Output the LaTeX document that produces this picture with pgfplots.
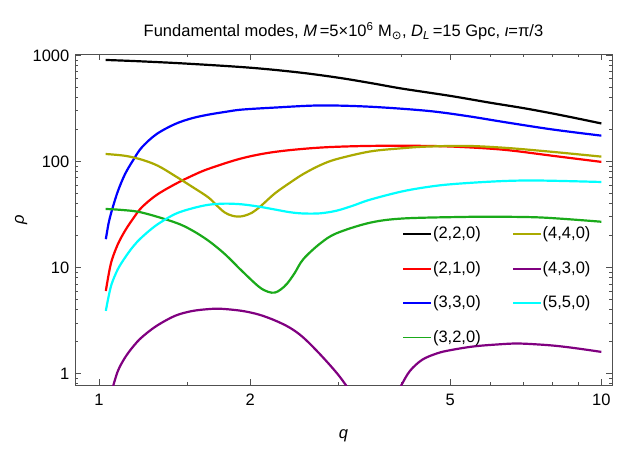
\documentclass[border=0pt]{standalone}
\usepackage{fontspec}
\setmainfont{Liberation Sans}
\newfontfamily\dejavu{DejaVu Sans}
\usepackage{pgfplots}
\pgfplotsset{compat=1.18}

\definecolor{mgreen}{RGB}{26,170,26}
\definecolor{molive}{RGB}{170,170,0}
\definecolor{mpurple}{RGB}{128,0,128}
\definecolor{mcyan}{RGB}{0,255,255}
\definecolor{mframe}{RGB}{80,80,80}

\begin{document}
\fontsize{16.5bp}{19bp}\selectfont
\begin{tikzpicture}
\begin{axis}[
  name=ax,
  at={(0,0)}, anchor=south west,
  scale only axis,
  width=537bp, height=331bp,
  xmode=log, ymode=log,
  xmin=0.896, xmax=10.5,
  ymin=0.78, ymax=1030,
  xtick={1,2,5,10}, xticklabels={1,2,5,10},
  minor xtick={1.5,3,4,6,7,8,9},
  ytick={1,10,100,1000}, yticklabels={1,10,100,1000},
  minor ytick={0.8,0.9,2,3,4,5,6,7,8,9,20,30,40,50,60,70,80,90,200,300,400,500,600,700,800,900},
  tick align=inside,
  major tick length=6bp, minor tick length=3.5bp,
  axis line style={mframe, line width=0.8bp},
  every tick/.style={mframe, line width=0.8bp},
  /pgf/number format/assume math mode=true,
  ticklabel style={font=\fontsize{16.5bp}{19bp}\selectfont},
  xticklabel style={yshift=-3bp},
  xlabel={\textit{q}}, ylabel={\textit{ρ}},
  label style={font=\fontsize{16.5bp}{19bp}\selectfont},
  xlabel style={yshift=-13bp},
  ylabel style={yshift=-6bp},
  title={Fundamental modes, \textit{M}\,=5×10\textsuperscript{6} M\textsubscript{\dejavu ⊙}, \textit{D}\textsubscript{\textit{L}}\,=15 Gpc, \textit{ι}=π/3},
  title style={font=\fontsize{16.5bp}{19bp}\selectfont, yshift=2bp},
  legend columns=4, transpose legend,
  legend style={at={(0.605,0.49)}, anchor=north west, draw=none, fill=none,
    font=\fontsize{16.5bp}{19bp}\selectfont, row sep=16bp,
    /tikz/every even column/.append style={column sep=30bp}},
  legend image code/.code={\fill[#1, draw=none] (0bp,-0.9bp) rectangle (28bp,0.9bp);},
  every axis plot/.append style={line width=2.2bp},
]
\addplot[black, smooth, tension=0.55] coordinates {(1.031,905) (1.2,880) (1.5,835) (2,765) (2.5,690) (3,615) (3.5,545) (4,487) (5,415) (6,358) (7,318) (8,283) (9,253) (10,228)};
\addlegendentry{(2,2,0)}
\addplot[red, smooth, tension=0.55] coordinates {(1.032,6.0) (1.045,8.5) (1.06,11.6) (1.09,16.5) (1.127,22.2) (1.17,29) (1.216,36.8) (1.3,48) (1.417,61) (1.53,73) (1.651,85) (1.925,107) (2.24,123) (2.755,135) (3.46,140) (4.5,140) (5.4,136) (6.48,128) (8,113) (10,99)};
\addlegendentry{(2,1,0)}
\addplot[blue, smooth, tension=0.55] coordinates {(1.032,18.5) (1.045,26) (1.06,34) (1.09,52) (1.127,76) (1.17,103) (1.216,135) (1.3,180) (1.417,225) (1.53,255) (1.651,276) (1.8,295) (1.925,308) (2.24,322) (2.755,337) (3.46,328) (4.5,300) (5.4,268) (6.48,233) (8,200) (10,175)};
\addlegendentry{(3,3,0)}
\addplot[mgreen, smooth, tension=0.55] coordinates {(1.031,35.6) (1.1,35) (1.216,33) (1.417,26.6) (1.53,22.5) (1.651,17.9) (1.78,13.4) (1.925,9.3) (2.08,6.6) (2.17,5.9) (2.24,5.8) (2.3,6.2) (2.366,7.0) (2.45,8.8) (2.552,12) (2.755,16.8) (2.97,21) (3.46,26.4) (4.04,29) (5.4,30) (6,30.1) (7.6,29.6) (10,27)};
\addlegendentry{(3,2,0)}
\addplot[molive, smooth, tension=0.55] coordinates {(1.031,117.5) (1.127,113) (1.216,104) (1.31,91) (1.417,73) (1.53,58) (1.651,45.8) (1.72,38) (1.78,33) (1.84,30.8) (1.895,30.2) (1.95,30.8) (2.02,33) (2.1,38) (2.24,50) (2.4,63) (2.55,76) (2.755,92) (2.97,105) (3.46,124) (4.0,133) (4.5,138) (5.4,140) (6.48,134) (8,123) (10,111)};
\addlegendentry{(4,4,0)}
\addplot[mpurple, smooth, tension=0.55] coordinates {(1.06,0.68) (1.09,1.05) (1.127,1.415) (1.17,1.8) (1.216,2.19) (1.3,2.8) (1.417,3.5) (1.53,3.88) (1.651,4.05) (1.75,4.08) (1.925,3.9) (2.08,3.6) (2.24,3.17) (2.4,2.7) (2.55,2.19) (2.755,1.52) (2.97,1.02) (3.1,0.78) (3.2,0.62)};
\addlegendentry{(4,3,0)}
\addplot[mpurple, smooth, tension=0.55, forget plot] coordinates {(3.9,0.62) (4.0,0.78) (4.16,1.06) (4.4,1.35) (4.71,1.55) (5.0,1.66) (5.56,1.8) (6.2,1.88) (6.79,1.92) (7.5,1.88) (8.17,1.82) (9,1.72) (10,1.60)};
\addplot[mcyan, smooth, tension=0.55] coordinates {(1.032,3.9) (1.045,5.3) (1.06,7.0) (1.09,9.6) (1.127,12.4) (1.17,15.8) (1.216,19.2) (1.3,25) (1.417,31.9) (1.53,36) (1.651,39) (1.78,40) (1.925,39.4) (2.08,37.5) (2.24,35.2) (2.4,33.2) (2.55,32.3) (2.755,32.4) (2.97,34.3) (3.2,38.2) (3.46,43.5) (4.04,52.5) (4.7,59) (5.4,62.5) (6.48,65.5) (7.6,66) (10,64)};
\addlegendentry{(5,5,0)}
\end{axis}
\path (ax.south west) ++(-75bp,-78bp) coordinate (bbl);
\path (ax.north east) ++(5bp,54bp) coordinate (btr);
\path (bbl) rectangle (btr);
\end{tikzpicture}
\end{document}
